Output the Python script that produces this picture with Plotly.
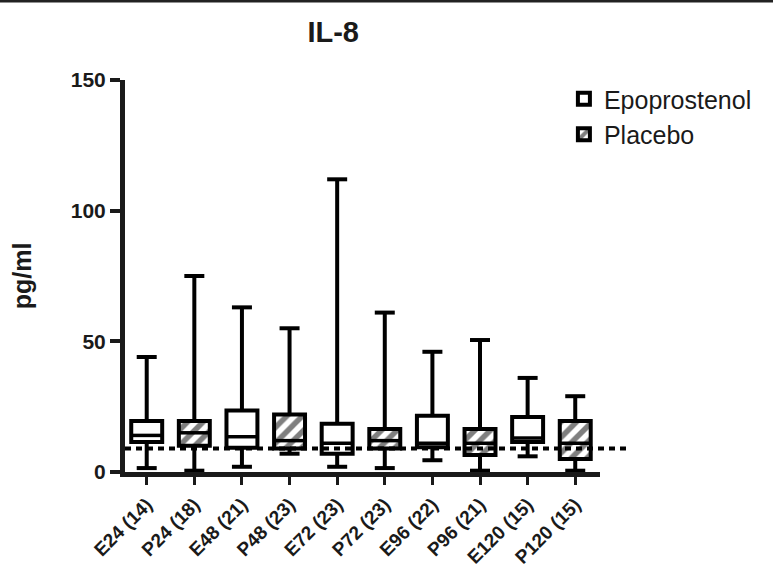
import plotly.graph_objects as go

# ---- data ----
categories = ["E24 (14)", "P24 (18)", "E48 (21)", "P48 (23)", "E72 (23)",
              "P72 (23)", "E96 (22)", "P96 (21)", "E120 (15)", "P120 (15)"]
upper = [44, 75, 63, 55, 112, 61, 46, 50.5, 36, 29]
q3 = [19.5, 19.5, 23.5, 22, 18.5, 16.5, 21.5, 16.5, 21, 19.5]
median = [14, 15, 13.5, 12, 11, 12, 11, 11, 13, 11]
q1 = [11.5, 10, 9.3, 9, 7, 9, 9.5, 6.5, 11.5, 5]
lower = [1.5, 0.5, 2, 7, 2, 1.5, 4.5, 0.5, 6, 0.5]
threshold = 9
series = [("Epoprostenol", "E", ""), ("Placebo", "P", "/")]
y_ticks = [0, 50, 100, 150]

FONT = "Liberation Sans, Arial, sans-serif"
pos = list(range(len(categories)))
BOX_W = 0.65
CAP_W = 0.21

fig = go.Figure()

# boxes (as floating bars so the placebo ones can be hatched)
for name, letter, shape in series:
    idx = [i for i, c in enumerate(categories) if c.startswith(letter)]
    fig.add_trace(go.Bar(
        name=name,
        x=[pos[i] for i in idx],
        y=[q3[i] - q1[i] for i in idx],
        base=[q1[i] for i in idx],
        width=BOX_W,
        marker=dict(color="white", line=dict(color="black", width=4),
                    pattern=dict(shape=shape, fgcolor="black", bgcolor="white",
                                 size=11, solidity=0.5, fillmode="overlay")),
        hoverinfo="skip",
    ))

# whiskers, caps and medians
wx, wy = [], []
for i in pos:
    wx += [i, i, None, i, i, None]
    wy += [q3[i], upper[i], None, q1[i], lower[i], None]
    wx += [i - CAP_W, i + CAP_W, None, i - CAP_W, i + CAP_W, None]
    wy += [upper[i], upper[i], None, lower[i], lower[i], None]
fig.add_trace(go.Scatter(x=wx, y=wy, mode="lines",
                         line=dict(color="black", width=4),
                         showlegend=False, hoverinfo="skip"))
mx, my = [], []
for i in pos:
    mx += [i - BOX_W / 2, i + BOX_W / 2, None]
    my += [median[i], median[i], None]
fig.add_trace(go.Scatter(x=mx, y=my, mode="lines",
                         line=dict(color="black", width=3.5),
                         showlegend=False, hoverinfo="skip"))

# dashed reference line (extends past the x axis end)
fig.add_shape(type="line", xref="paper", yref="y", x0=0, x1=1.057,
              y0=threshold, y1=threshold, layer="above",
              line=dict(color="black", width=4, dash="6px,5px"))
# thin border at the top of the image
fig.add_shape(type="line", xref="paper", yref="paper", x0=-0.3, x1=1.4,
              y0=1.2015, y1=1.2015, line=dict(color="#222", width=3))

fig.update_layout(
    width=773, height=573,
    margin=dict(l=125, r=173, t=80, b=101),
    paper_bgcolor="white", plot_bgcolor="white",
    barmode="overlay",
    title=dict(text="IL-8", x=0.431, xanchor="center", y=0.945, yanchor="middle",
               font=dict(family=FONT, size=29, color="#1a1a1a", weight="bold")),
    legend=dict(x=0.924, y=1.01, xanchor="left", yanchor="top",
                font=dict(family=FONT, size=25, color="#1a1a1a"),
                traceorder="grouped", tracegroupgap=15, bgcolor="rgba(0,0,0,0)"),
    xaxis=dict(range=[-0.456, 9.52], tickmode="array", tickvals=pos,
               ticktext=categories, tickangle=-45, automargin=False,
               ticklabelstandoff=1,
               showline=True, linewidth=5, linecolor="#1a1a1a",
               ticks="outside", ticklen=8, tickwidth=3, tickcolor="#1a1a1a",
               showgrid=False, zeroline=False,
               tickfont=dict(family=FONT, size=19, color="#1a1a1a", weight="bold")),
    yaxis=dict(range=[0, 150], tickmode="array", tickvals=y_ticks, automargin=False,
               showline=True, linewidth=5, linecolor="#1a1a1a",
               ticks="outside", ticklen=10, tickwidth=3.5, tickcolor="#1a1a1a",
               showgrid=False, zeroline=False,
               tickfont=dict(family=FONT, size=21, color="#1a1a1a", weight="bold"),
               title=dict(text="pg/ml", standoff=34,
                          font=dict(family=FONT, size=25, color="#1a1a1a", weight="bold"))),
)

fig.write_html("out.html", config={"displayModeBar": False},
               post_script="document.body.style.margin='0';")
